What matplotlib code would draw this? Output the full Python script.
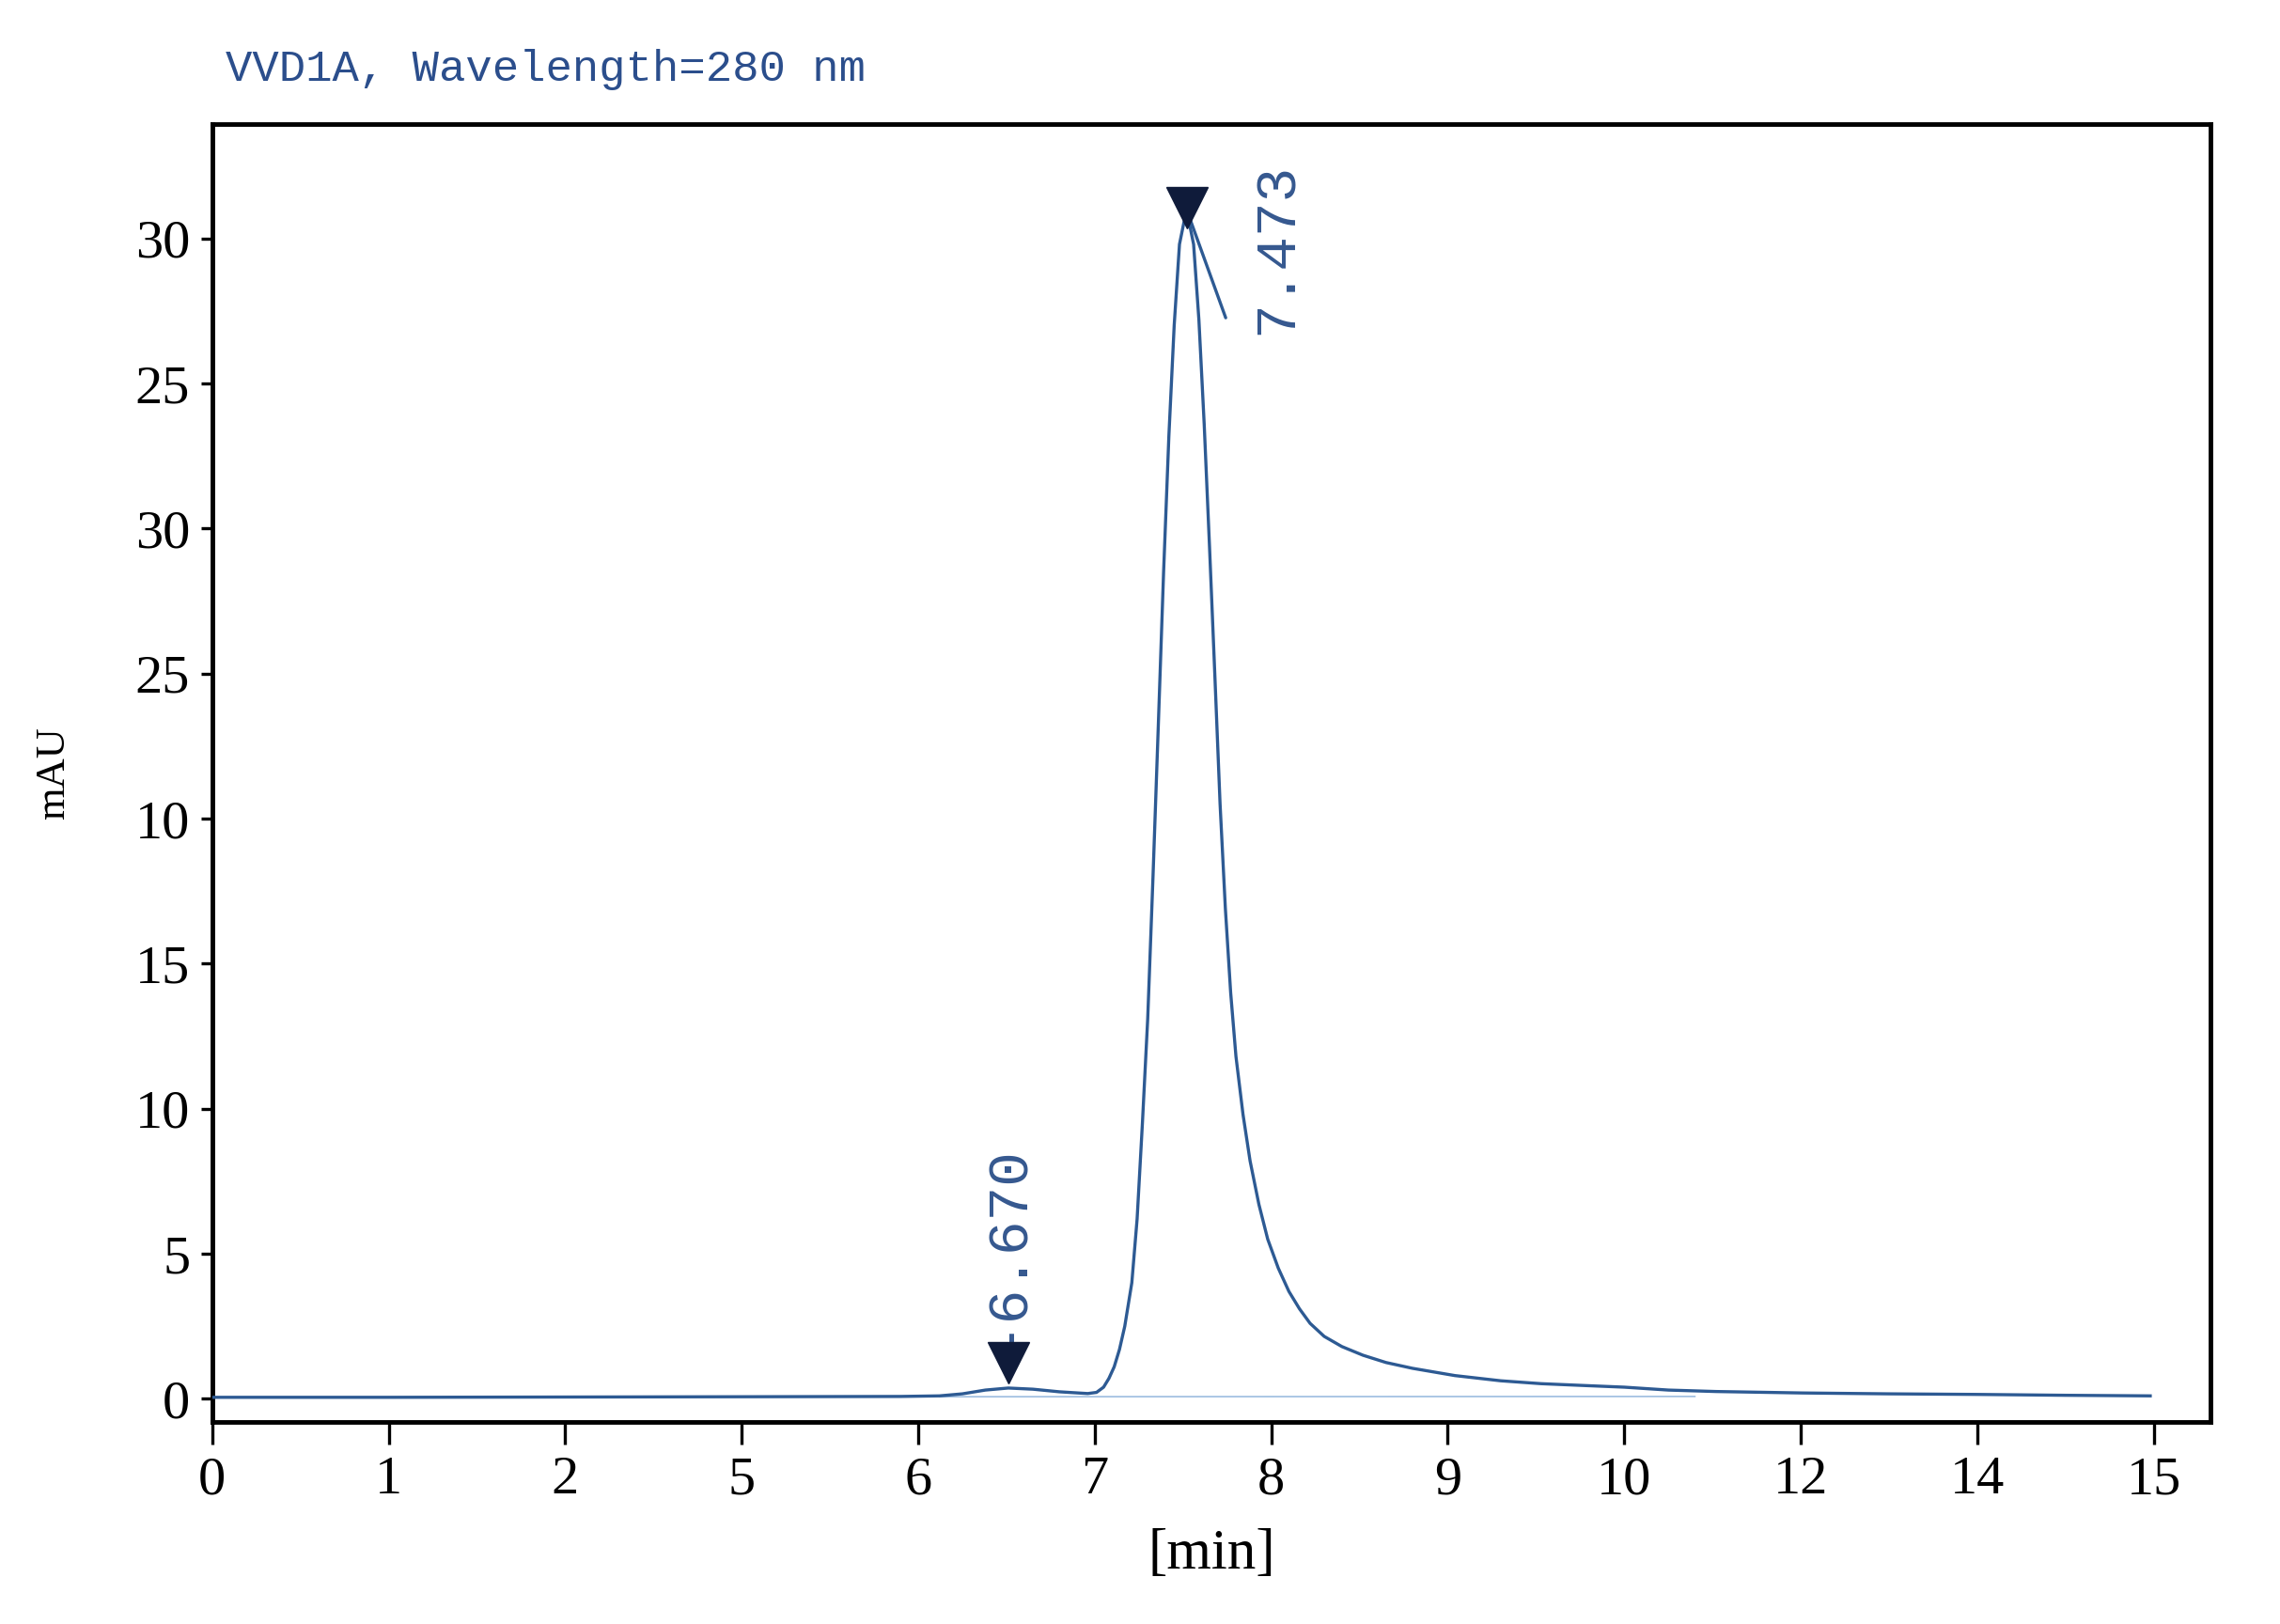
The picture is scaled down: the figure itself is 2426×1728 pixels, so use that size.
import matplotlib.pyplot as plt
from matplotlib.transforms import ScaledTranslation

# Chromatogram trace (x in tick-slot units, y in tick-slot units of 5 mAU per label step)
time_pos = [0.00, 1.00, 2.00, 3.00, 3.90, 4.12, 4.25, 4.38, 4.51, 4.65, 4.80, 4.96,
            5.01, 5.05, 5.08, 5.11, 5.14, 5.17, 5.21, 5.24, 5.27, 5.30, 5.33, 5.36,
            5.39, 5.42, 5.45, 5.48, 5.52, 5.56, 5.59, 5.62, 5.65, 5.68, 5.71, 5.74,
            5.77, 5.80, 5.84, 5.88, 5.93, 5.98, 6.04, 6.10, 6.16, 6.22, 6.30, 6.40,
            6.52, 6.65, 6.80, 7.04, 7.30, 7.53, 7.80, 8.00, 8.25, 8.52, 9.01, 9.50,
            10.00, 10.50, 10.98]
signal = [0.05, 0.05, 0.06, 0.07, 0.08, 0.10, 0.17, 0.30, 0.37, 0.33, 0.24, 0.18,
          0.22, 0.40, 0.70, 1.10, 1.70, 2.50, 4.00, 6.20, 9.50, 13.1, 18.0, 23.2,
          28.5, 33.2, 37.0, 39.8, 41.0, 39.8, 37.2, 33.6, 29.4, 25.0, 20.5, 16.9,
          14.0, 11.8, 9.8, 8.2, 6.7, 5.5, 4.5, 3.7, 3.1, 2.6, 2.15, 1.8,
          1.5, 1.25, 1.05, 0.80, 0.62, 0.52, 0.45, 0.40, 0.30, 0.25, 0.20, 0.17,
          0.15, 0.12, 0.10]

# integration baseline
baseline_x = [4.12, 8.40]
baseline_y = [0.07, 0.08]

# peak annotations
peak_x = [4.51, 5.52]
peak_y = [0.37, 41.0]
peak_labels = ["-6.670", "7.473"]

xtick_labels = ["0", "1", "2", "5", "6", "7", "8", "9", "10", "12", "14", "15"]
ytick_labels = ["0", "5", "10", "15", "10", "25", "30", "25", "30"]

line_col = "#2d5a93"
text_col = "#35588f"
marker_col = "#0f1b3a"

fig = plt.figure(figsize=(24.26, 17.28), dpi=100)
ax = fig.add_axes([0.0931, 0.1244, 0.9694 - 0.0931, 0.9239 - 0.1244])

ax.plot(baseline_x, baseline_y, color="#9dbde0", lw=1.2, zorder=2)
ax.plot(time_pos, signal, color=line_col, lw=2.4, zorder=3)

# tangent mark on main peak
ax.annotate("", xy=(peak_x[1], peak_y[1]), xytext=(30, -83), textcoords="offset points",
            arrowprops=dict(arrowstyle="-", color=line_col, lw=2.4, shrinkA=0, shrinkB=0),
            zorder=3)

marker_offsets = [19.5, 1.5]
label_offsets = [(-3, 109), (70, -30)]
for px, py, lab, mo, lo in zip(peak_x, peak_y, peak_labels, marker_offsets, label_offsets):
    ax.plot([px], [py], marker="v", markersize=32, color=marker_col,
            transform=ax.transData + ScaledTranslation(0, mo / 72, fig.dpi_scale_trans),
            zorder=4, clip_on=False)
    ax.annotate(lab, xy=(px, py), xytext=lo, textcoords="offset points",
                rotation=90, ha="center", va="center", color=text_col,
                fontsize=44, family="Liberation Mono")

ax.set_xlim(0, 11.32)
ax.set_ylim(-0.8, 43.96)
ax.set_xticks(range(len(xtick_labels)))
ax.set_xticklabels(xtick_labels)
ax.set_yticks([5 * i for i in range(len(ytick_labels))])
ax.set_yticklabels(ytick_labels)

for lab in ax.get_xticklabels() + ax.get_yticklabels():
    lab.set_family("Liberation Serif")
    lab.set_fontsize(42)
ax.tick_params(axis="x", length=17, width=2.4, pad=9, direction="out")
ax.tick_params(axis="y", length=9, width=2.4, pad=8, direction="out")
for sp in ax.spines.values():
    sp.set_linewidth(3.5)

ax.set_xlabel("[min]", fontsize=44, family="Liberation Serif", labelpad=18)
ax.set_ylabel("mAU", fontsize=32, family="Liberation Serif", labelpad=48)

fig.text(0.0989, 0.957, "VVD1A, Wavelength=280 nm", color="#2b4e8c",
         fontsize=34, family="Liberation Mono", ha="left", va="center")

fig.savefig("out.png", dpi=100, facecolor="white")
